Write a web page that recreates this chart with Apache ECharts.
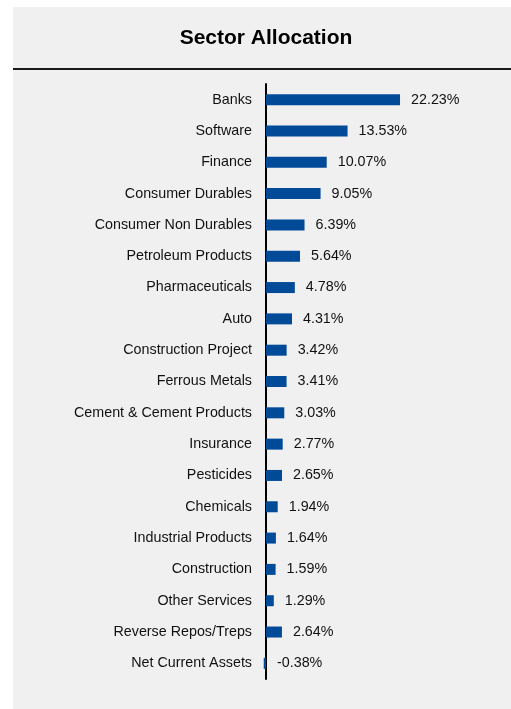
<!DOCTYPE html>
<html>
<head>
<meta charset="utf-8">
<style>
  html, body { margin: 0; padding: 0; background: #ffffff; }
  #chart { width: 511px; height: 709px; }
</style>
<script src="https://cdn.jsdelivr.net/npm/echarts@6/dist/echarts.min.js"></script>
</head>
<body>
<div id="chart"></div>
<script>
// Sector names, top to bottom
const sectors = [
  'Banks', 'Software', 'Finance', 'Consumer Durables', 'Consumer Non Durables',
  'Petroleum Products', 'Pharmaceuticals', 'Auto', 'Construction Project',
  'Ferrous Metals', 'Cement & Cement Products', 'Insurance', 'Pesticides',
  'Chemicals', 'Industrial Products', 'Construction', 'Other Services',
  'Reverse Repos/Treps', 'Net Current Assets'
];
// Allocation in percent of net assets
const weights = [
  22.23, 13.53, 10.07, 9.05, 6.39, 5.64, 4.78, 4.31, 3.42, 3.41,
  3.03, 2.77, 2.65, 1.94, 1.64, 1.59, 1.29, 2.64, -0.38
];

const chart = echarts.init(document.getElementById('chart'), null, { renderer: 'canvas' });
const font = 'Liberation Sans, Arial, Helvetica, sans-serif';

chart.setOption({
  backgroundColor: '#ffffff',
  animation: false,
  graphic: [
    { type: 'rect', shape: { x: 13, y: 7, width: 498, height: 702 }, style: { fill: '#f0f0f0' }, z: -10 },
    { type: 'line', shape: { x1: 13, y1: 69, x2: 511, y2: 69 }, style: { stroke: '#1a1a1a', lineWidth: 2 } },
    {
      type: 'text', x: 266, y: 38,
      style: {
        text: 'Sector Allocation', align: 'center', verticalAlign: 'middle',
        font: 'bold 21px ' + font, fill: '#000'
      }
    }
  ],
  grid: { left: 263, right: 34, top: 84, bottom: 30, containLabel: false },
  xAxis: {
    type: 'value', min: -0.5, max: 35,
    show: false
  },
  yAxis: {
    type: 'category',
    data: sectors,
    inverse: true,
    axisLine: { show: true, onZero: true, lineStyle: { color: '#000', width: 2 } },
    axisTick: { show: false },
    axisLabel: { margin: 11, color: '#111', fontFamily: font, fontSize: 14.3 }
  },
  series: [{
    type: 'bar',
    data: weights,
    barWidth: 11,
    itemStyle: { color: '#004a98' },
    label: {
      show: true,
      position: 'right',
      distance: 11,
      color: '#111',
      fontFamily: font,
      fontSize: 14.3,
      formatter: p => p.value.toFixed(2) + '%'
    }
  }]
});
</script>
</body>
</html>
